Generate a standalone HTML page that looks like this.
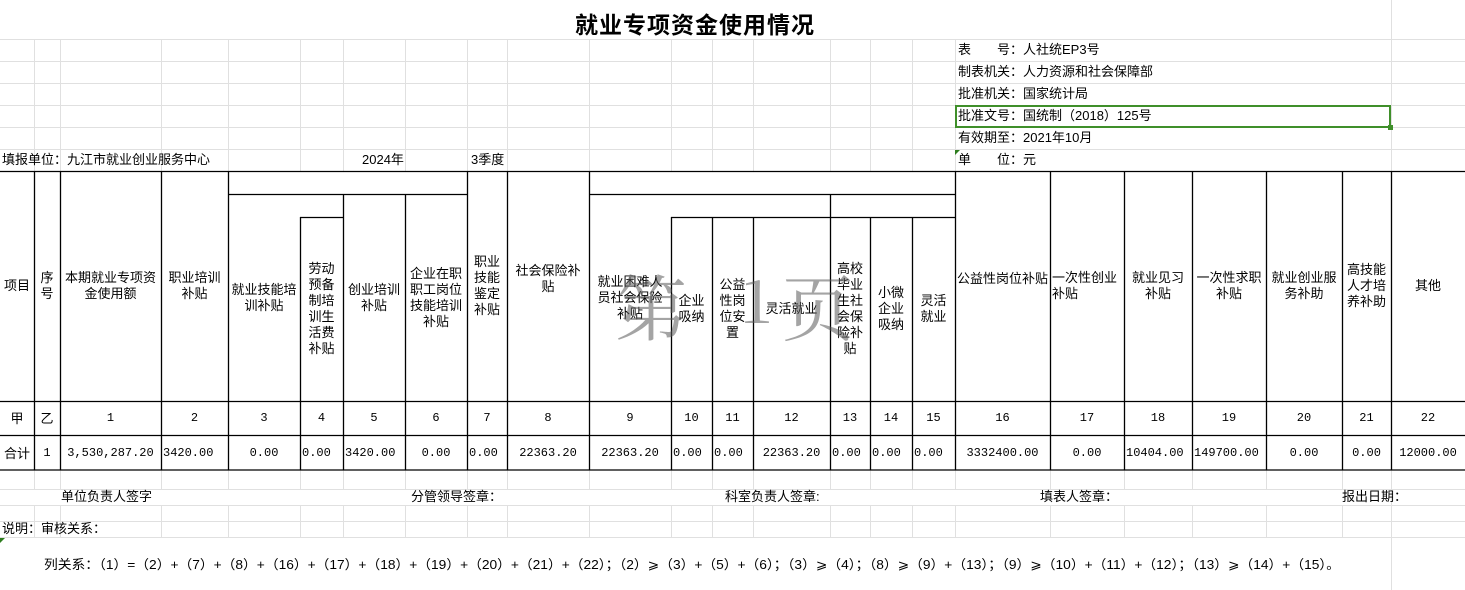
<!DOCTYPE html>
<html><head><meta charset="utf-8">
<style>
html,body{margin:0;padding:0;background:#fff;}
body{width:1465px;height:590px;position:relative;overflow:hidden;font-family:"Liberation Sans","Noto Sans CJK SC",sans-serif;font-size:13px;color:#000;}
svg{position:absolute;left:0;top:0;}
.c{position:absolute;display:flex;align-items:center;justify-content:center;text-align:center;line-height:16px;box-sizing:border-box;padding:0 2px;}
.t{position:absolute;white-space:nowrap;line-height:16px;}
.n{font-family:"Liberation Mono","Noto Sans CJK SC",monospace;font-size:12px;}
.title{position:absolute;left:0;width:1390px;top:6px;text-align:center;font-size:23px;font-weight:bold;letter-spacing:1px;font-family:"Noto Sans CJK SC",sans-serif;}
.wm{position:absolute;font-family:"Noto Serif CJK SC",serif;color:rgba(90,90,90,0.55);font-size:72px;line-height:72px;}
</style></head>
<body>
<svg width="1465" height="590">
<g stroke="#e0e0e0" stroke-width="1">
<line x1="0" y1="39.5" x2="1465" y2="39.5"/><line x1="0" y1="61.5" x2="1465" y2="61.5"/><line x1="0" y1="83.5" x2="1465" y2="83.5"/><line x1="0" y1="105.5" x2="1465" y2="105.5"/><line x1="0" y1="127.5" x2="1465" y2="127.5"/><line x1="0" y1="149.5" x2="1465" y2="149.5"/>
<line x1="0" y1="489.5" x2="1465" y2="489.5"/><line x1="0" y1="505.5" x2="1465" y2="505.5"/><line x1="0" y1="521.5" x2="1465" y2="521.5"/><line x1="0" y1="537.5" x2="1465" y2="537.5"/>
<g id="gv"></g>
<line x1="1391.5" y1="0" x2="1391.5" y2="171"/><line x1="1391.5" y1="470" x2="1391.5" y2="590"/>
</g>
<g stroke="#000" stroke-width="1.3">
<line x1="0" y1="171.5" x2="1465" y2="171.5"/>
<line x1="228" y1="194.5" x2="467" y2="194.5"/>
<line x1="589" y1="194.5" x2="955" y2="194.5"/>
<line x1="300" y1="217.5" x2="343" y2="217.5"/>
<line x1="671" y1="217.5" x2="955" y2="217.5"/>
<line x1="0" y1="401.5" x2="1465" y2="401.5"/>
<line x1="0" y1="435.5" x2="1465" y2="435.5"/>
<line x1="0" y1="470" x2="1465" y2="470"/>
<line x1="34.5" y1="171" x2="34.5" y2="470"/><line x1="60.5" y1="171" x2="60.5" y2="470"/><line x1="161.5" y1="171" x2="161.5" y2="470"/><line x1="228.5" y1="171" x2="228.5" y2="470"/>
<line x1="300.5" y1="217" x2="300.5" y2="470"/><line x1="343.5" y1="194" x2="343.5" y2="470"/><line x1="405.5" y1="194" x2="405.5" y2="470"/><line x1="467.5" y1="171" x2="467.5" y2="470"/>
<line x1="507.5" y1="171" x2="507.5" y2="470"/><line x1="589.5" y1="171" x2="589.5" y2="470"/><line x1="671.5" y1="217" x2="671.5" y2="470"/><line x1="712.5" y1="217" x2="712.5" y2="470"/>
<line x1="753.5" y1="217" x2="753.5" y2="470"/><line x1="830.5" y1="194" x2="830.5" y2="470"/><line x1="870.5" y1="217" x2="870.5" y2="470"/><line x1="912.5" y1="217" x2="912.5" y2="470"/>
<line x1="955.5" y1="171" x2="955.5" y2="470"/><line x1="1050.5" y1="171" x2="1050.5" y2="470"/><line x1="1124.5" y1="171" x2="1124.5" y2="470"/><line x1="1192.5" y1="171" x2="1192.5" y2="470"/>
<line x1="1266.5" y1="171" x2="1266.5" y2="470"/><line x1="1342.5" y1="171" x2="1342.5" y2="470"/><line x1="1391.5" y1="171" x2="1391.5" y2="470"/>
</g>
<rect x="956" y="106" width="434" height="21" fill="none" stroke="#3f8f2a" stroke-width="2"/>
<rect x="1388" y="125" width="5" height="5" fill="#3f8f2a"/>
<polygon points="955,150 960,150 955,155" fill="#2e7d1e"/>
<polygon points="0,538 5,538 0,543" fill="#2e7d1e"/>
<text x="44" y="569" font-size="13" textLength="1296" lengthAdjust="spacingAndGlyphs" font-family="Liberation Sans, Noto Sans CJK SC, sans-serif">列关系：（1）=（2）+（7）+（8）+（16）+（17）+（18）+（19）+（20）+（21）+（22）；（2）⩾（3）+（5）+（6）；（3）⩾（4）；（8）⩾（9）+（13）；（9）⩾（10）+（11）+（12）；（13）⩾（14）+（15）。</text>
</svg>
<script>
var gv=document.getElementById('gv');
[34,60,161,228,300,343,405,467,507,589,671,712,753,830,870,912,955].forEach(function(x){
 [[39,171],[470,489],[505,537]].forEach(function(r){
  var l=document.createElementNS('http://www.w3.org/2000/svg','line');
  
  
  l.setAttribute('x1',x+0.5);l.setAttribute('x2',x+0.5);l.setAttribute('y1',r[0]);l.setAttribute('y2',r[1]);gv.appendChild(l);
 });
});
[1050,1124,1192,1266,1342].forEach(function(x){
 [[470,489],[505,537]].forEach(function(r){
  var l=document.createElementNS('http://www.w3.org/2000/svg','line');
  
  
  l.setAttribute('x1',x+0.5);l.setAttribute('x2',x+0.5);l.setAttribute('y1',r[0]);l.setAttribute('y2',r[1]);gv.appendChild(l);
 });
});
</script>

<div class="title">就业专项资金使用情况</div>

<div class="t" style="left:958px;top:42px">表　　号：人社统EP3号</div>
<div class="t" style="left:958px;top:64px">制表机关：人力资源和社会保障部</div>
<div class="t" style="left:958px;top:86px">批准机关：国家统计局</div>
<div class="t" style="left:958px;top:108px">批准文号：国统制（2018）125号</div>
<div class="t" style="left:958px;top:130px">有效期至：2021年10月</div>
<div class="t" style="left:958px;top:152px">单　　位：元</div>
<div class="t" style="left:2px;top:152px">填报单位：九江市就业创业服务中心</div>
<div class="t" style="left:362px;top:152px">2024年</div>
<div class="t" style="left:471px;top:152px">3季度</div>

<div class="c" style="left:0;top:171px;width:34px;height:230px">项目</div>
<div class="c" style="left:34px;top:171px;width:26px;height:230px;padding:0 6px">序号</div>
<div class="c" style="left:60px;top:171px;width:101px;height:230px">本期就业专项资金使用额</div>
<div class="c" style="left:161px;top:171px;width:67px;height:230px;padding:0 5px">职业培训补贴</div>
<div class="c" style="left:228px;top:194px;width:72px;height:207px;padding:0 3px">就业技能培训补贴</div>
<div class="c" style="left:300px;top:217px;width:43px;height:184px;padding:0 8px">劳动预备制培训生活费补贴</div>
<div class="c" style="left:343px;top:194px;width:62px;height:207px;padding:0 4px">创业培训补贴</div>
<div class="c" style="left:405px;top:194px;width:62px;height:207px;padding:0 4px">企业在职职工岗位技能培训补贴</div>
<div class="c" style="left:467px;top:171px;width:40px;height:230px;padding:0 7px">职业技能鉴定补贴</div>
<div class="c" style="left:507px;top:171px;width:82px;height:230px;padding:0 6px;padding-bottom:14px">社会保险补贴</div>
<div class="c" style="left:589px;top:194px;width:82px;height:207px;padding:0 7px">就业困难人员社会保险补贴</div>
<div class="c" style="left:671px;top:217px;width:41px;height:184px;padding:0 7px">企业吸纳</div>
<div class="c" style="left:712px;top:217px;width:41px;height:184px;padding:0 7px">公益性岗位安置</div>
<div class="c" style="left:753px;top:217px;width:77px;height:184px">灵活就业</div>
<div class="c" style="left:830px;top:217px;width:40px;height:184px;padding:0 7px">高校毕业生社会保险补贴</div>
<div class="c" style="left:870px;top:217px;width:42px;height:184px;padding:0 8px">小微企业吸纳</div>
<div class="c" style="left:912px;top:217px;width:43px;height:184px;padding:0 8px">灵活就业</div>
<div class="c" style="left:955px;top:171px;width:95px;height:230px;padding-bottom:14px">公益性岗位补贴</div>
<div class="c" style="left:1050px;top:171px;width:74px;height:230px;justify-content:flex-start;text-align:left">一次性创业补贴</div>
<div class="c" style="left:1124px;top:171px;width:68px;height:230px;padding:0 6px">就业见习补贴</div>
<div class="c" style="left:1192px;top:171px;width:74px;height:230px;padding:0 4px">一次性求职补贴</div>
<div class="c" style="left:1266px;top:171px;width:76px;height:230px;padding:0 4px">就业创业服务补助</div>
<div class="c" style="left:1342px;top:171px;width:49px;height:230px;padding:0 1px">高技能人才培养补助</div>
<div class="c" style="left:1391px;top:171px;width:74px;height:230px">其他</div>

<div class="wm" style="left:615px;top:268px">第</div>
<div class="wm" style="left:740px;top:262px;font-size:60px">1</div>
<div class="wm" style="left:782px;top:268px">页</div>

<div id="rows"></div>
<script>
var xs=[0,34,60,161,228,300,343,405,467,507,589,671,712,753,830,870,912,955,1050,1124,1192,1266,1342,1391,1465];
var nums=['甲','乙','1','2','3','4','5','6','7','8','9','10','11','12','13','14','15','16','17','18','19','20','21','22'];
var vals=['合计','1','3,530,287.20','3420.00','0.00','0.00','3420.00','0.00','0.00','22363.20','22363.20','0.00','0.00','22363.20','0.00','0.00','0.00','3332400.00','0.00','10404.00','149700.00','0.00','0.00','12000.00'];
var leftAl={3:1,5:1,6:1,8:1,11:1,12:1,14:1,15:1,16:1,19:1,20:1};
var rowsEl=document.getElementById('rows');
for(var i=0;i<24;i++){
 var d=document.createElement('div');
 d.className='c n';
 
 
 d.style.left=xs[i]+'px';d.style.top='401px';d.style.width=(xs[i+1]-xs[i])+'px';d.style.height='34px';
 if(i<2){d.style.fontFamily='"Noto Sans CJK SC",sans-serif';d.style.fontSize='13px';}
 d.textContent=nums[i];rowsEl.appendChild(d);
 var e=document.createElement('div');
 e.className='c n';
 
 
 e.style.left=xs[i]+'px';e.style.top='435px';e.style.width=(xs[i+1]-xs[i])+'px';e.style.height='35px';
 if(i<1){e.style.fontFamily='"Noto Sans CJK SC",sans-serif';e.style.fontSize='13px';}
 if(leftAl[i]){e.style.justifyContent='flex-start';}
 e.textContent=vals[i];rowsEl.appendChild(e);
}
</script>

<div class="t" style="left:61px;top:489px">单位负责人签字</div>
<div class="t" style="left:411px;top:489px">分管领导签章：</div>
<div class="t" style="left:725px;top:489px">科室负责人签章:</div>
<div class="t" style="left:1040px;top:489px">填表人签章：</div>
<div class="t" style="left:1342px;top:489px">报出日期：</div>
<div class="t" style="left:2px;top:521px">说明：审核关系：</div>
</body></html>
